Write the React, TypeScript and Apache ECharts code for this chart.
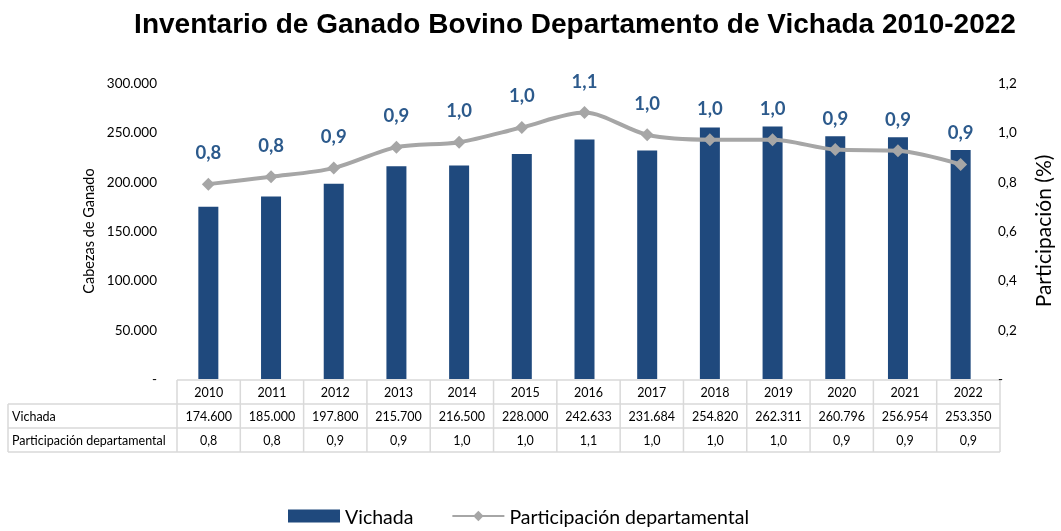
import React, { useEffect, useRef } from "react";
import * as echarts from "echarts";

const years = ["2010","2011","2012","2013","2014","2015","2016","2017","2018","2019","2020","2021","2022"];
// bar heights as drawn in the picture
const vichadaBars = [174600, 185000, 197800, 215700, 216500, 228000, 242633, 231684, 254820, 256000, 246000, 245000, 232000];
// values printed in the data table
const vichadaTable = ["174.600","185.000","197.800","215.700","216.500","228.000","242.633","231.684","254.820","262.311","260.796","256.954","253.350"];
const participacion = [0.79, 0.82, 0.855, 0.94, 0.96, 1.02, 1.08, 0.99, 0.97, 0.97, 0.93, 0.925, 0.87];
const participacionTable = ["0,8","0,8","0,9","0,9","1,0","1,0","1,1","1,0","1,0","1,0","0,9","0,9","0,9"];
const rowLabels = ["Vichada", "Participación departamental"];

const W = 1061, H = 531;
const GL = 177, GR = 61, GT = 83, GB = 152;
const FONT = "Lato, 'Noto Sans', sans-serif";

export default function App() {
  const ref = useRef<HTMLDivElement>(null);
  useEffect(() => {
    const chart = echarts.init(ref.current!, null, { renderer: "svg" });
    const plotW = W - GL - GR;
    const cw = plotW / years.length;
    const tTop = H - GB + 1;
    const rh = 24;
    const lineColor = "#d9d9d9";
    const g: any[] = [];
    g.push({ type: "line", shape: { x1: GL, y1: tTop, x2: GL + plotW, y2: tTop }, style: { stroke: lineColor, lineWidth: 1.5 } });
    for (let r = 1; r <= 3; r++) {
      g.push({ type: "line", shape: { x1: 8, y1: tTop + r * rh, x2: GL + plotW, y2: tTop + r * rh }, style: { stroke: lineColor, lineWidth: 1.5 } });
    }
    g.push({ type: "line", shape: { x1: 8, y1: tTop + rh, x2: 8, y2: tTop + 3 * rh }, style: { stroke: lineColor, lineWidth: 1.5 } });
    for (let c = 0; c <= years.length; c++) {
      g.push({ type: "line", shape: { x1: GL + c * cw, y1: tTop, x2: GL + c * cw, y2: tTop + 3 * rh }, style: { stroke: lineColor, lineWidth: 1.5 } });
    }
    const rows = [years, vichadaTable, participacionTable];
    rows.forEach((row, r) => {
      row.forEach((t, c) => {
        g.push({ type: "text", x: GL + (c + 0.5) * cw, y: tTop + (r + 0.5) * rh, style: { text: t, fill: "#000", font: `12.5px ${FONT}`, textAlign: "center", textVerticalAlign: "middle" } });
      });
    });
    rowLabels.forEach((t, i) => {
      g.push({ type: "text", x: 12, y: tTop + (i + 1.5) * rh, style: { text: t, fill: "#000", font: `12.5px ${FONT}`, textAlign: "left", textVerticalAlign: "middle" } });
    });

    chart.setOption({
      animation: false,
      title: {
        text: "Inventario de Ganado Bovino Departamento de Vichada 2010-2022",
        left: 570, top: 4, textAlign: "center",
        textStyle: { fontFamily: "'Liberation Sans', Arial, sans-serif", fontWeight: "bold", fontSize: 28, color: "#000" },
      },
      grid: { left: GL, right: GR, top: GT, bottom: GB },
      legend: {
        bottom: 0, left: 283, itemGap: 38, itemWidth: 52, itemHeight: 13,
        textStyle: { fontFamily: FONT, fontSize: 19.5, color: "#000" },
        data: [
          { name: "Vichada", icon: "rect" },
          { name: "Participación departamental" },
        ],
      },
      xAxis: {
        type: "category", data: years,
        axisLine: { show: false }, axisTick: { show: false }, axisLabel: { show: false },
      },
      yAxis: [
        {
          type: "value", min: 0, max: 300000, interval: 50000,
          name: "Cabezas de Ganado", nameLocation: "middle", nameGap: 76,
          nameTextStyle: { fontFamily: FONT, fontSize: 14.5, color: "#000" },
          splitLine: { show: false }, axisLine: { show: false }, axisTick: { show: false },
          axisLabel: {
            fontFamily: FONT, fontSize: 13.5, color: "#000", margin: 20,
            formatter: (v: number) => (v === 0 ? "-" : v.toLocaleString("de-DE")),
          },
        },
        {
          type: "value", min: 0, max: 1.2, interval: 0.2,
          name: "Participación (%)", nameLocation: "middle", nameGap: 40, nameRotate: 90,
          nameTextStyle: { fontFamily: FONT, fontSize: 21, color: "#000" },
          splitLine: { show: false }, axisLine: { show: false }, axisTick: { show: false },
          axisLabel: {
            fontFamily: FONT, fontSize: 13.5, color: "#000", margin: 6,
            formatter: (v: number) => (v === 0 ? "-" : v.toFixed(1).replace(".", ",")),
          },
        },
      ],
      series: [
        {
          name: "Vichada", type: "bar", data: vichadaBars, barWidth: 20,
          itemStyle: { color: "#1f497d" },
        },
        {
          name: "Participación departamental", type: "line", yAxisIndex: 1, data: participacion,
          smooth: 0.3, symbol: "diamond", symbolSize: 13,
          lineStyle: { color: "#a6a6a6", width: 4 },
          itemStyle: { color: "#a6a6a6" },
          label: {
            show: true, position: "top", distance: 16,
            fontFamily: FONT, fontSize: 18.5, fontWeight: "bold", color: "#2c5a8c",
            formatter: (p: any) => (p.value as number).toFixed(1).replace(".", ","),
          },
        },
      ],
      graphic: g,
    });
    return () => chart.dispose();
  }, []);
  return <div ref={ref} style={{ position: "fixed", left: 0, top: 0, width: W, height: H }} />;
}
